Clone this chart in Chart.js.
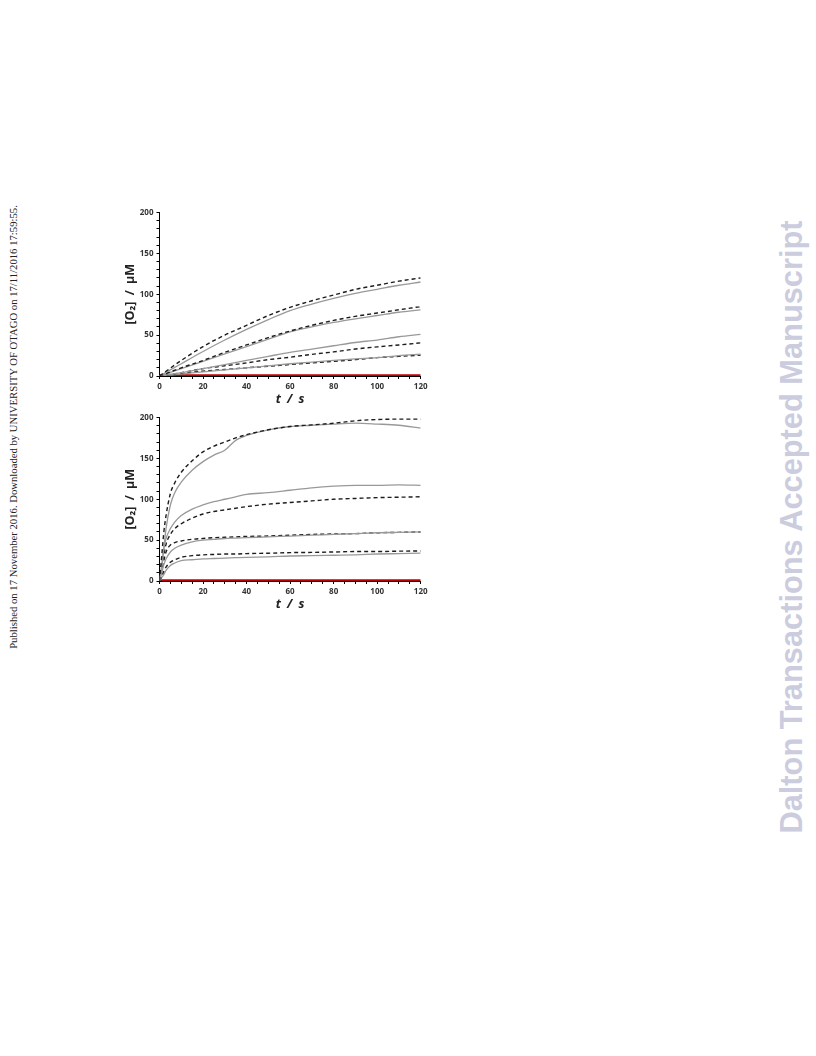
<!DOCTYPE html>
<html>
<head>
<meta charset="utf-8">
<script src="https://cdn.jsdelivr.net/npm/chart.js@4"></script>
<style>
  body { margin: 0; width: 816px; height: 1056px; position: relative; background: #fff; overflow: hidden; }
  canvas { position: absolute; }
  #chartTop { left: 120px; top: 200px; }
  #chartBottom { left: 120px; top: 405px; }
  .rot { position: absolute; white-space: nowrap; transform: translate(-50%, -50%) rotate(-90deg); }
  #published { left: 13px; top: 427px; font: 10.7px "Liberation Serif", serif; color: #222; }
  #watermark { left: 792px; top: 527px; font: bold 30.8px "Liberation Sans", sans-serif; color: #ccccdf; }
</style>
</head>
<body>
<div id="published" class="rot">Published on 17 November 2016. Downloaded by UNIVERSITY OF OTAGO on 17/11/2016 17:59:55.</div>
<div id="watermark" class="rot">Dalton Transactions Accepted Manuscript</div>
<canvas id="chartTop" width="320" height="208"></canvas>
<canvas id="chartBottom" width="320" height="208"></canvas>
<script>
// top panel, time in s
const timesTop = [0, 10, 20, 30, 40, 50, 60, 70, 80, 90, 100, 110, 120];
const topDashedA = [0, 19, 36, 50, 62, 74, 84, 92, 99, 106, 111, 116, 120];
const topSolidA  = [0, 15, 30, 44, 57, 69, 80, 88, 95, 101, 106, 111, 115];
const topDashedB = [0, 10, 19, 29, 38, 47, 55, 62, 68, 73, 77, 81, 85];
const topSolidB  = [0, 9, 18, 27, 36, 45, 54, 60, 65.5, 70, 74, 78, 81];
const topSolidC  = [0, 4, 9, 14, 19, 24, 29, 33, 37, 41, 44, 48, 51];
const topDashedC = [0, 4, 9, 12.5, 16, 20, 23, 26.5, 29.5, 33, 35.6, 38, 40.5];
const topSolidD  = [0, 2.5, 5, 7.5, 10, 12.5, 15, 17, 19, 21, 22.5, 25, 26.6];
const topDashedD = [0, 3, 6, 8, 10, 12, 14, 16, 18, 20, 22.5, 24, 25.4];
const topBlank   = [1, 1, 1, 1, 1, 1, 1, 1, 1, 1, 1, 1, 1];

// bottom panel
const timesBottom = [0, 1, 2, 3, 5, 7, 10, 15, 20, 25, 30, 35, 40, 50, 60, 70, 80, 90, 100, 110, 120];
const botDashedA = [0, 30, 60, 80, 107, 120, 133, 147, 158, 165, 170, 175, 179, 185, 189, 191, 193, 196, 197.5, 198, 198];
const botSolidA  = [0, 15, 40, 64, 93, 108, 121, 135.5, 146, 154, 160, 172, 178, 185, 189, 190.5, 192, 193, 192, 190.5, 187];
const botSolidB  = [0, 20, 40, 52, 64, 72, 80, 88, 93, 97, 100, 103, 106, 108, 111, 114, 116, 117, 117, 117.5, 117];
const botDashedB = [0, 18, 32, 45, 57, 64, 70, 77, 82, 85, 87, 89, 91, 94, 96, 98, 100, 101, 102, 102.5, 103];
const botSolidC  = [0, 10, 20, 27, 35.5, 40, 44, 48, 50, 51, 52, 52.5, 53, 54, 55, 56, 57, 58, 59, 59.5, 60];
const botDashedC = [0, 12, 25, 35.5, 44, 47, 49, 51, 52, 53, 53.5, 54, 54.5, 55, 56, 57, 57.5, 58, 59, 59.5, 60];
const botDashedD = [0, 6, 12, 17, 23, 26, 29, 31, 32, 32.5, 33, 33, 33.5, 34, 34.7, 35, 35.5, 36, 36, 36.5, 36.7];
const botSolidD  = [0, 4, 8, 13, 19, 22, 25, 26, 27, 27.5, 28, 28.5, 29, 29.5, 30.6, 31, 31.5, 32, 33, 33.5, 34];
const botBlank   = timesBottom.map(() => 1);

const xTicks = { min: 0, max: 120, step: 5, labelEvery: 20 };
const yTicks = { min: 0, max: 200, step: 10, labelEvery: 50 };

const tickFont = { family: "Open Sans", weight: "bold", size: 8 };
const titleFont = { family: "Open Sans", weight: "bold", size: 12.5 };

function solid(times, vals) {
  return {
    data: times.map((t, i) => ({ x: t, y: vals[i] })),
    borderColor: "#999999", borderWidth: 1.3
  };
}
function dashed(times, vals) {
  return {
    data: times.map((t, i) => ({ x: t, y: vals[i] })),
    borderColor: "#1c1c1c", borderWidth: 1.4, borderDash: [4, 3]
  };
}
function red(times, vals) {
  return {
    data: times.map((t, i) => ({ x: t, y: vals[i] })),
    borderColor: "#c00000", borderWidth: 2
  };
}

function makeChart(id, datasets) {
  return new Chart(document.getElementById(id), {
    type: "line",
    data: { datasets },
    options: {
      responsive: false,
      animation: false,
      devicePixelRatio: 1,
      layout: { padding: { top: 12.5, right: 19.3, bottom: 0, left: 0 } },
      elements: {
        point: { radius: 0 },
        line: { cubicInterpolationMode: "monotone", fill: false }
      },
      plugins: { legend: { display: false }, tooltip: { enabled: false } },
      scales: {
        x: {
          type: "linear", min: xTicks.min, max: xTicks.max,
          afterFit: s => { s.height = 32; },
          border: { color: "#000", width: 1 },
          grid: { drawOnChartArea: false, tickLength: 3, color: "#000" },
          ticks: {
            stepSize: xTicks.step, autoSkip: false, maxRotation: 0, padding: 3,
            color: "#333", font: tickFont,
            callback: v => (v % xTicks.labelEvery === 0 ? v : "")
          },
          title: { display: true, text: "t\u2002/\u2002s", color: "#222",
                   font: { ...titleFont, style: "italic" }, padding: { top: 0, bottom: 1 } }
        },
        y: {
          min: yTicks.min, max: yTicks.max,
          afterFit: s => { s.width = 39.5; },
          border: { color: "#000", width: 1 },
          grid: { drawOnChartArea: false, tickLength: 3, color: "#000" },
          ticks: {
            stepSize: yTicks.step, autoSkip: false, padding: 3,
            color: "#333", font: tickFont,
            callback: v => (v % yTicks.labelEvery === 0 ? v : "")
          },
          title: { display: true, text: "[O\u2082]\u2002/\u2002\u03bcM", color: "#222",
                   font: titleFont, padding: { top: 3, bottom: 0 } }
        }
      }
    }
  });
}

makeChart("chartTop", [
  dashed(timesTop, topDashedA), solid(timesTop, topSolidA),
  dashed(timesTop, topDashedB), solid(timesTop, topSolidB),
  solid(timesTop, topSolidC), dashed(timesTop, topDashedC),
  solid(timesTop, topSolidD), dashed(timesTop, topDashedD),
  red(timesTop, topBlank)
]);

makeChart("chartBottom", [
  dashed(timesBottom, botDashedA), solid(timesBottom, botSolidA),
  solid(timesBottom, botSolidB), dashed(timesBottom, botDashedB),
  solid(timesBottom, botSolidC), dashed(timesBottom, botDashedC),
  dashed(timesBottom, botDashedD), solid(timesBottom, botSolidD),
  red(timesBottom, botBlank)
]);
</script>
</body>
</html>
